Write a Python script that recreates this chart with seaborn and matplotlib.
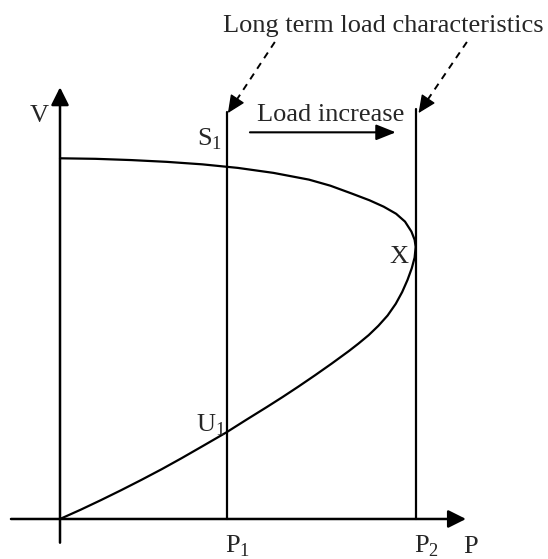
import matplotlib
matplotlib.use("Agg")
import matplotlib.pyplot as plt
import seaborn as sns
import pandas as pd

sns.set_theme(style="white")
plt.rcParams['font.family'] = ['Liberation Serif', 'DejaVu Serif']
plt.rcParams['mathtext.fontset'] = 'custom'
plt.rcParams['mathtext.rm'] = 'Liberation Serif'

# PV (nose) curve, normalised so that P2 = 1
# upper (stable) branch, from the V axis to the nose point X
upper_p = [0.0, 0.1, 0.2, 0.3, 0.4, 0.5, 0.6, 0.7, 0.76, 0.82, 0.87, 0.91,
           0.945, 0.97, 0.988, 0.997]
upper_v = [1.014, 1.0125, 1.009, 1.004, 0.997, 0.987, 0.973, 0.954, 0.937, 0.915,
           0.896, 0.878, 0.858, 0.836, 0.808, 0.785]
# nose point X
nose_p = [1.0]
nose_v = [0.765]
# lower (unstable) branch, from the nose down to the origin
lower_p = [0.997, 0.989, 0.977, 0.962, 0.944, 0.921, 0.895, 0.868, 0.839, 0.812,
           0.764, 0.717, 0.670, 0.626, 0.582, 0.524, 0.467, 0.403, 0.342, 0.286,
           0.229, 0.172, 0.115, 0.058, 0.0]
lower_v = [0.735, 0.705, 0.672, 0.638, 0.605, 0.572, 0.543, 0.517, 0.493, 0.472,
           0.437, 0.404, 0.372, 0.343, 0.315, 0.279, 0.243, 0.206, 0.171, 0.140,
           0.110, 0.081, 0.053, 0.026, 0.0]

# long term load characteristics (vertical lines)
load_names = ["P1", "P2"]
load_p = [0.469, 1.0]
load_top = [1.145, 1.152]

curve_p = upper_p + nose_p + lower_p
curve_v = upper_v + nose_v + lower_v
df = pd.DataFrame({"P": curve_p, "V": curve_v})

fig = plt.figure(figsize=(5.48, 5.59), dpi=100)
ax = fig.add_axes([0, 0, 1, 1])
ax.set_xlim(-0.1687, 1.372)
ax.set_ylim(-0.1125, 1.459)
ax.axis("off")

sns.lineplot(data=df, x="P", y="V", sort=False, color="black", lw=1.6, ax=ax,
             estimator=None)

for p, top in zip(load_p, load_top):
    sns.lineplot(x=[p, p], y=[0.0, top], color="black", lw=1.6, ax=ax, estimator=None)

arrow_kw = dict(arrowstyle="-|>,head_length=10.8,head_width=5.4", mutation_scale=1,
                color="black", lw=1.8, shrinkA=0, shrinkB=0)
# axes
ax.annotate("", xy=(0, 1.2137), xytext=(0, -0.0666), arrowprops=arrow_kw)
ax.annotate("", xy=(1.1414, 0), xytext=(-0.1378, 0), arrowprops=arrow_kw)

# Load increase arrow
ax.annotate("", xy=(0.944, 1.087), xytext=(0.534, 1.087),
            arrowprops=dict(arrowstyle="-|>,head_length=12,head_width=4.8",
                            mutation_scale=1, color="black", lw=1.5,
                            shrinkA=0, shrinkB=0))

# dashed pointers
for (x0, y0), (x1, y1) in [((0.604, 1.341), (0.472, 1.141)),
                           ((1.144, 1.341), (1.008, 1.141))]:
    fx = x1 + (x0 - x1) * 0.2
    fy = y1 + (y0 - y1) * 0.2
    ax.plot([x0, fx], [y0, fy], color="black", lw=1.4, ls=(0, (3.5, 3)))
    ax.annotate("", xy=(x1, y1), xytext=(fx, fy),
                arrowprops=dict(arrowstyle="-|>,head_length=11,head_width=5",
                                mutation_scale=1, color="black", lw=1.0,
                                shrinkA=0, shrinkB=0))

fs = 19
ax.text(0.908, 1.369, "Long term load characteristics", ha="center", va="baseline", fontsize=fs)
ax.text(0.760, 1.120, "Load increase", ha="center", va="baseline", fontsize=fs)
ax.text(-0.0576, 1.116, "V", ha="center", va="baseline", fontsize=fs)
ax.text(0.455, 1.051, r"S$_\mathregular{1}$", ha="right", va="baseline", fontsize=fs)
ax.text(0.466, 0.245, r"U$_\mathregular{1}$", ha="right", va="baseline", fontsize=fs)
ax.text(0.954, 0.720, "X", ha="center", va="baseline", fontsize=fs)
ax.text(load_p[0] - 0.006, -0.0956, r"P$_\mathregular{1}$", ha="left", va="baseline", fontsize=fs)
ax.text(load_p[1] - 0.006, -0.0956, r"P$_\mathregular{2}$", ha="left", va="baseline", fontsize=fs)
ax.text(1.133, -0.0956, "P", ha="left", va="baseline", fontsize=fs)

fig.savefig("out.png", dpi=100, facecolor="white")
